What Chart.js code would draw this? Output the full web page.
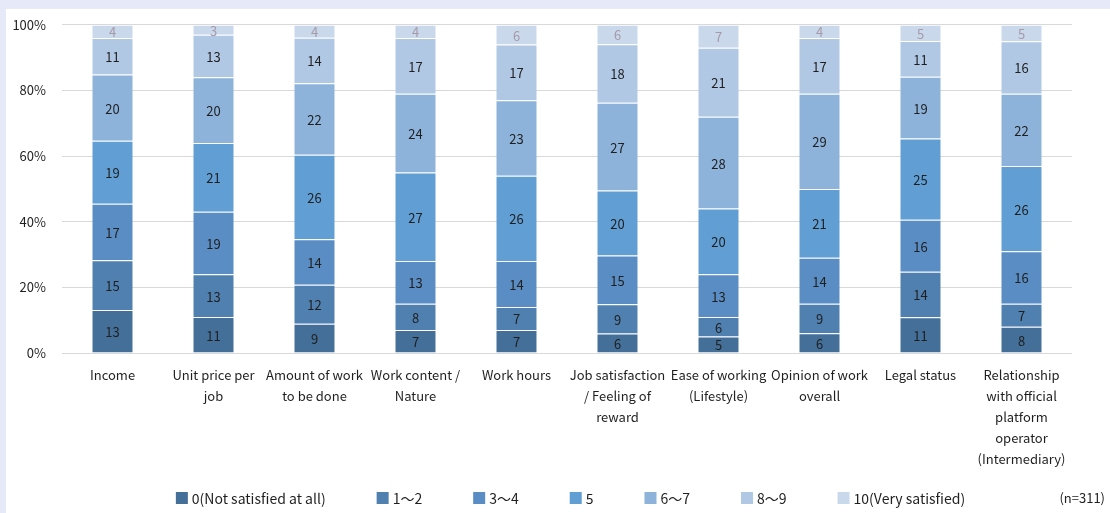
<!DOCTYPE html>
<html>
<head>
<meta charset="utf-8">
<script src="https://cdn.jsdelivr.net/npm/chart.js@4/dist/chart.umd.min.js"></script>
<style>
  html, body { margin: 0; padding: 0; }
  body { width: 1110px; height: 513px; background: #e6eaf8; position: relative; overflow: hidden; }
  .panel { position: absolute; left: 6px; top: 9px; width: 1104px; height: 504px; background: #fff; }
  #chart { position: absolute; left: 0; top: -8px; }
  .note { position: absolute; right: 5px; bottom: 6px; font: 13px 'Noto Sans CJK JP', sans-serif; color: #222; }
</style>
</head>
<body>
<div class="panel">
  <canvas id="chart" width="1104" height="512"></canvas>
  <div class="note">(n=311)</div>
</div>
<script>
// categories (x axis)
const categories = [
    'Income',
    ['Unit price per', 'job'],
    ['Amount of work', 'to be done'],
    ['Work content /', 'Nature'],
    'Work hours',
    ['Job satisfaction', '/ Feeling of', 'reward'],
    ['Ease of working', '(Lifestyle)'],
    ['Opinion of work', 'overall'],
    'Legal status',
    ['Relationship', 'with official', 'platform', 'operator', '(Intermediary)']
];

// satisfaction groups (legend)
const groups = ['0(Not satisfied at all)', '1～2', '3～4', '5', '6～7', '8～9', '10(Very satisfied)'];

// shares per group, in %
const score0   = [13, 11,  9,  7,  7,  6,  5,  6, 11,  8];
const score1_2 = [15, 13, 12,  8,  7,  9,  6,  9, 14,  7];
const score3_4 = [17, 19, 14, 13, 14, 15, 13, 14, 16, 16];
const score5   = [19, 21, 26, 27, 26, 20, 20, 21, 25, 26];
const score6_7 = [20, 20, 22, 24, 23, 27, 28, 29, 19, 22];
const score8_9 = [11, 13, 14, 17, 17, 18, 21, 17, 11, 16];
const score10  = [ 4,  3,  4,  4,  6,  6,  7,  4,  5,  5];

const yTicks = [0, 20, 40, 60, 80, 100];

const series = [score0, score1_2, score3_4, score5, score6_7, score8_9, score10];
const colors = ['#436f98', '#5080b0', '#5a8dc3', '#619ed4', '#8db3db', '#b1c8e5', '#c9d8eb'];

// bars are shown as 100% stacks, labels keep the rounded numbers
const totals = categories.map((c, i) => series.reduce((s, arr) => s + arr[i], 0));

const FONT = "'Noto Sans CJK JP', 'Noto Sans', sans-serif";

const datasets = series.map((arr, k) => ({
    label: groups[k],
    data: arr.map((v, i) => v / totals[i] * 100),
    raw: arr,
    backgroundColor: colors[k],
    borderColor: 'rgba(255,255,255,0.55)',
    borderWidth: { top: 1 },
    borderSkipped: false,
    barPercentage: 0.4,
    categoryPercentage: 1
}));

// draw numbers in the middle of each segment
const segmentLabels = {
    id: 'segmentLabels',
    afterDatasetsDraw(chart) {
        const ctx = chart.ctx;
        ctx.save();
        ctx.font = '13px ' + FONT;
        ctx.textAlign = 'center';
        ctx.textBaseline = 'middle';
        chart.data.datasets.forEach((ds, k) => {
            const meta = chart.getDatasetMeta(k);
            meta.data.forEach((bar, i) => {
                const mid = (bar.y + bar.base) / 2;
                ctx.fillStyle = k === 6 ? '#a59aa9' : '#1f1f1f';
                ctx.fillText(ds.raw[i], bar.x, mid + 1);
            });
        });
        ctx.restore();
    }
};

// legend row under the axis labels
const bottomLegend = {
    id: 'bottomLegend',
    afterDraw(chart) {
        const ctx = chart.ctx;
        const box = 12, gap = 4, spacing = 51;
        const y = 497;
        ctx.save();
        ctx.font = '14px ' + FONT;
        ctx.textBaseline = 'middle';
        const widths = chart.data.datasets.map(ds => box + gap + ctx.measureText(ds.label).width);
        const total = widths.reduce((a, b) => a + b, 0) + spacing * (widths.length - 1);
        let x = 564.5 - total / 2;
        chart.data.datasets.forEach((ds, k) => {
            ctx.fillStyle = ds.backgroundColor;
            ctx.fillRect(x, y - box / 2, box, box);
            ctx.fillStyle = '#1f1f1f';
            ctx.fillText(ds.label, x + box + gap, y + 1);
            x += widths[k] + spacing;
        });
        ctx.restore();
    }
};

new Chart(document.getElementById('chart'), {
    type: 'bar',
    data: { labels: categories, datasets: datasets },
    options: {
        responsive: false,
        animation: false,
        layout: { padding: { left: 0, right: 38, top: 2, bottom: 45 } },
        plugins: {
            legend: { display: false },
            tooltip: { enabled: false }
        },
        scales: {
            x: {
                stacked: true,
                grid: { display: false },
                border: { display: false },
                ticks: {
                    font: { family: FONT, size: 13, lineHeight: 1.6 },
                    color: '#1f1f1f',
                    maxRotation: 0,
                    autoSkip: false,
                    padding: 4
                },
                afterFit(scale) { scale.height = 115; }
            },
            y: {
                stacked: true,
                min: 0,
                max: 100,
                afterBuildTicks(scale) { scale.ticks = yTicks.map(v => ({ value: v })); },
                grid: { color: '#d9d9d9', drawTicks: false },
                border: { display: false },
                ticks: {
                    font: { family: FONT, size: 13 },
                    color: '#1f1f1f',
                    padding: 16,
                    callback: v => v + '%'
                },
                afterFit(scale) { scale.width = 56; }
            }
        }
    },
    plugins: [segmentLabels, bottomLegend]
});
</script>
</body>
</html>
